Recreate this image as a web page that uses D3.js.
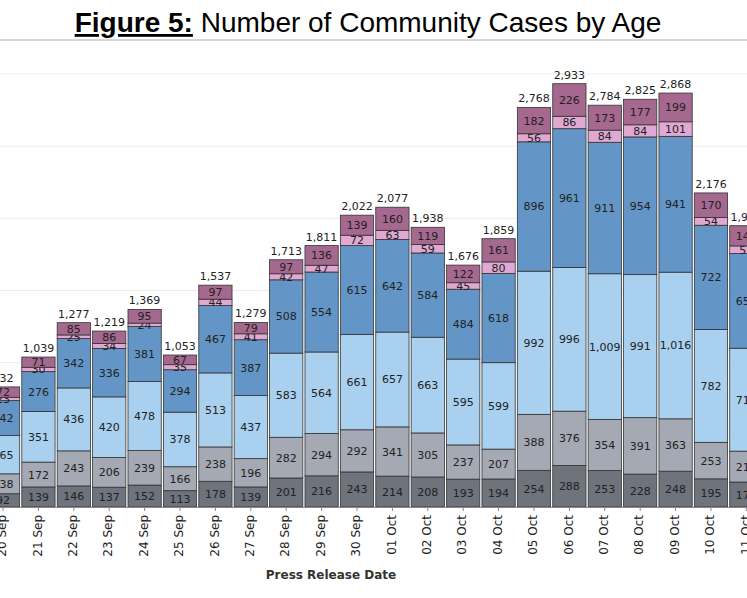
<!DOCTYPE html>
<html><head><meta charset="utf-8">
<script src="https://cdn.jsdelivr.net/npm/d3@7"></script>
<style>body{margin:0;background:#fff}svg{display:block}</style>
</head><body><svg id="chart"></svg>
<script>
const dates = ['20 Sep','21 Sep','22 Sep','23 Sep','24 Sep','25 Sep','26 Sep','27 Sep','28 Sep','29 Sep','30 Sep',
  '01 Oct','02 Oct','03 Oct','04 Oct','05 Oct','06 Oct','07 Oct','08 Oct','09 Oct','10 Oct','11 Oct'];
const band1 = [92,139,146,137,152,113,178,139,201,216,243,214,208,193,194,254,288,253,228,248,195,173];
const band2 = [138,172,243,206,239,166,238,196,282,294,292,341,305,237,207,388,376,354,391,363,253,214];
const band3 = [265,351,436,420,478,378,513,437,583,564,661,657,663,595,599,992,996,1009,991,1016,782,713];
const band4 = [242,276,342,336,381,294,467,387,508,554,615,642,584,484,618,896,961,911,954,941,722,656];
const band5 = [23,30,25,34,24,35,44,41,42,47,72,63,59,45,80,56,86,84,84,101,54,53];
const band6 = [72,71,85,86,95,67,97,79,97,136,139,160,119,122,161,182,226,173,177,199,170,140];
const series = [band1, band2, band3, band4, band5, band6];
const colors = ['#6e737c','#a4a9b3','#a9d0ef','#6396c6','#e0a8d2','#a5688f'];
const gridTicks = [500,1000,1500,2000,2500,3000];

const width = 747, height = 598;
const svg = d3.select('#chart').attr('width', width).attr('height', height);

// title
const title = svg.append('text').attr('x', 368).attr('y', 32).attr('text-anchor', 'middle')
  .style('font-family', 'Liberation Sans, Arial, sans-serif').style('font-size', '28px');
title.append('tspan').text('Figure 5:').style('font-weight', 'bold').style('text-decoration', 'underline');
title.append('tspan').text(' Number of Community Cases by Age');
svg.append('line').attr('x1', 0).attr('x2', width).attr('y1', 40).attr('y2', 40)
  .attr('stroke', '#c8c8c8').attr('stroke-width', 1.5);

const x = d3.scaleBand().domain(dates).range([-13.6, -13.6 + 35.3 * dates.length]).paddingInner(0.06);
const y = d3.scaleLinear().domain([0, 3000]).range([507, 74]);

svg.append('g').selectAll('line').data(gridTicks).join('line')
  .attr('x1', 0).attr('x2', width).attr('y1', d => y(d)).attr('y2', d => y(d))
  .attr('stroke', '#ececec');

const rows = dates.map((d, i) => {
  const r = { date: d };
  series.forEach((s, k) => r['k' + k] = s[i]);
  return r;
});
const stack = d3.stack().keys(series.map((s, k) => 'k' + k))(rows);

const g = svg.append('g');
stack.forEach((layer, k) => {
  const lg = g.append('g');
  lg.selectAll('rect').data(layer).join('rect')
    .attr('x', d => x(d.data.date)).attr('width', x.bandwidth())
    .attr('y', d => y(d[1])).attr('height', d => y(d[0]) - y(d[1]))
    .attr('fill', colors[k]).attr('stroke', '#333').attr('stroke-width', 0.8);
  lg.selectAll('text').data(layer).join('text')
    .attr('x', d => x(d.data.date) + x.bandwidth() / 2)
    .attr('y', d => (y(d[0]) + y(d[1])) / 2 + 4)
    .attr('text-anchor', 'middle')
    .style('font-family', 'DejaVu Sans, sans-serif').style('font-size', '11px').attr('fill', '#222')
    .text(d => d3.format(',')(d[1] - d[0]));
});

// totals
g.selectAll('.total').data(rows).join('text')
  .attr('x', d => x(d.date) + x.bandwidth() / 2)
  .attr('y', (d, i) => y(series.reduce((a, s) => a + s[i], 0)) - 5)
  .attr('text-anchor', 'middle')
  .style('font-family', 'DejaVu Sans, sans-serif').style('font-size', '11px').attr('fill', '#222')
  .text((d, i) => d3.format(',')(series.reduce((a, s) => a + s[i], 0)));

// x axis
const ax = svg.append('g').attr('transform', 'translate(0,507)')
  .call(d3.axisBottom(x).tickSize(4).tickSizeOuter(0));
ax.select('.domain').attr('stroke', '#888');
ax.selectAll('.tick line').attr('stroke', '#888');
ax.selectAll('text').attr('transform', 'rotate(-90)').attr('text-anchor', 'end')
  .attr('x', -8).attr('y', -1).attr('dy', '0.35em')
  .style('font-family', 'DejaVu Sans, sans-serif').style('font-size', '12px').attr('fill', '#222');

svg.append('text').attr('x', 331).attr('y', 579).attr('text-anchor', 'middle')
  .style('font-family', 'DejaVu Sans, sans-serif').style('font-size', '12px').style('font-weight', 'bold')
  .attr('fill', '#333').text('Press Release Date');
</script></body></html>
